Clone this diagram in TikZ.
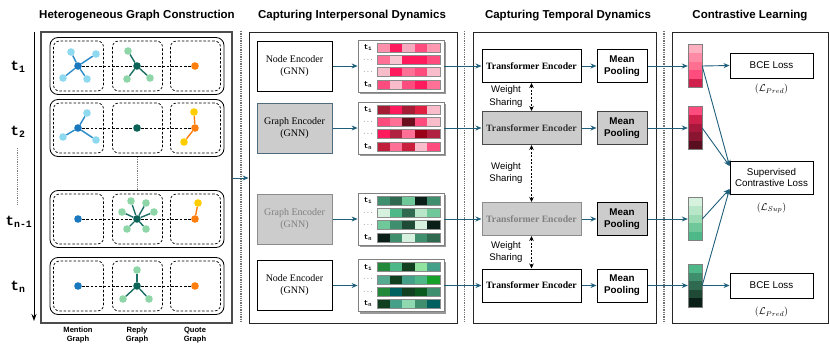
\documentclass[tikz,border=0pt]{standalone}
\usepackage{fontspec}
\setmainfont{Liberation Serif}
\setsansfont{Liberation Sans}
\setmonofont{Liberation Mono}
\usetikzlibrary{arrows.meta,calc}
\pgfdeclarelayer{bg}
\pgfsetlayers{bg,main}
\definecolor{arr}{RGB}{31,95,122}
\definecolor{cblue}{HTML}{1A78BE}
\definecolor{lblue}{HTML}{8ED9F0}
\definecolor{eblue}{HTML}{2A8BC8}
\definecolor{cteal}{HTML}{0C6358}
\definecolor{lgreen}{HTML}{8ED6A8}
\definecolor{eteal}{HTML}{1A6E64}
\definecolor{corange}{HTML}{FF7F0E}
\definecolor{cyellow}{HTML}{FFCC00}
\definecolor{boxgray}{HTML}{CCCCCC}
\definecolor{slate}{HTML}{4F6B7D}
\tikzset{
  title/.style={font=\sffamily\bfseries\fontsize{11.5}{13}\selectfont},
  panel/.style={draw=black!85, line width=0.9pt, minimum height=291pt},
  sepline/.style={black!55, densely dotted, line width=1.3pt},
  rowbox/.style={draw, rounded corners=8pt, line width=0.8pt, minimum width=174pt, minimum height=57pt},
  subbox/.style={draw, dash pattern=on 2.5pt off 1.8pt, rounded corners=6pt, line width=0.7pt, minimum width=50pt, minimum height=50pt},
  hline/.style={dash pattern=on 2.5pt off 1.8pt, line width=0.7pt},
  gnode/.style={circle, minimum size=7.6pt},
  conn/.style={arr, line width=0.9pt, -{Stealth[length=6pt,width=5pt]}},
  enc/.style={draw, line width=1pt, minimum width=75pt, minimum height=50pt, align=center, font=\fontsize{10}{12}\selectfont},
  matbox/.style={draw=black!50, fill=white, line width=0.8pt, minimum width=86pt, minimum height=52pt},
  tenc/.style={draw, line width=1pt, minimum width=99pt, minimum height=33pt, font=\bfseries\fontsize{9.7}{11}\selectfont},
  pool/.style={draw, line width=1pt, minimum width=50pt, minimum height=33pt, align=center, font=\sffamily\bfseries\fontsize{9.8}{12}\selectfont},
  loss/.style={draw, line width=0.9pt, minimum width=83pt, align=center, font=\sffamily\fontsize{9.8}{11}\selectfont},
  lossl/.style={font=\fontsize{10}{12}\selectfont},
  ws/.style={align=center, font=\sffamily\fontsize{9.6}{12.5}\selectfont},
  wsarrow/.style={dash pattern=on 2pt off 1.5pt, line width=0.9pt, {Stealth[length=5pt,width=4.5pt]}-{Stealth[length=5pt,width=4.5pt]}},
  tlab/.style={font=\ttfamily\bfseries\fontsize{14}{14}\selectfont},
  mlab/.style={font=\ttfamily\bfseries\fontsize{7.5}{8}\selectfont},
  glab/.style={align=center, font=\sffamily\bfseries\fontsize{7.6}{9}\selectfont},
}
\newcommand{\embmat}[3]{%
  \fill[black!40] (360,#2-24) rectangle (446,#2+28);
  \node[matbox] (#1) at (401,#2) {};
  \foreach \row [count=\r] in {#3} {
    \foreach \c [count=\k] in \row {
      \definecolor{cellc}{HTML}{\c}
      \fill[cellc] ({377+(\k-1)*12.6},{#2+(\r-2.5)*12.3-4.5}) rectangle ++(12.6,9);
    }
    \draw[black!45, line width=0.6pt] (377,{#2+(\r-2.5)*12.3-4.5}) rectangle ++(63,9);
  }
  \node[mlab] (#1l1) at (368,#2-18.45) {t\textsubscript{1}};
  \node[mlab] (#1l2) at (368,#2-6.15) {$\cdots$};
  \node[mlab] (#1l3) at (368,#2+6.15) {$\cdots$};
  \node[mlab] (#1l4) at (368,#2+18.45) {t\textsubscript{n}};
}
\newcommand{\embvec}[3]{%
  \node[minimum width=14pt, minimum height=43pt] (#1) at (695,#2) {};
  \foreach \c [count=\k] in {#3} {
    \definecolor{cellc}{HTML}{\c}
    \fill[cellc] (688,{#2-21.5+(\k-1)*8.6}) rectangle ++(14,8.6);
  }
  \draw[black!50, line width=0.6pt] (688,#2-21.5) rectangle (702,#2+21.5);
}
\begin{document}
\begin{tikzpicture}[x=1pt,y=-1pt, every node/.style={inner sep=0pt}]
\useasboundingbox (0,0) rectangle (830,348);

% titles
\node[title] (ti1) at (137,16) {Heterogeneous Graph Construction};
\node[title] (ti2) at (352,16) {Capturing Interpersonal Dynamics};
\node[title] (ti3) at (568,16) {Capturing Temporal Dynamics};
\node[title] (ti4) at (750,16) {Contrastive Learning};

% panels
\node[panel, draw=black!70, line width=1.2pt, minimum width=191pt] (lp) at (136.5,177.5) {};
\node[panel, minimum width=208pt] (mp) at (353,177.5) {};
\node[panel, minimum width=183pt] (tp) at (564.5,177.5) {};
\node[panel, minimum width=156pt] (cp) at (750,177.5) {};
\draw[sepline] (241,31) -- (241,323);
\draw[sepline] (464.5,31) -- (464.5,323);
\draw[sepline] (664,31) -- (664,323);

% time axis
\coordinate (axtop) at (34,32);
\coordinate (axbot) at (34,321);
\draw[line width=0.9pt, -{Stealth[length=7pt,width=5pt]}] (axtop) -- (axbot);
\draw[black!50, densely dotted, line width=0.8pt] (17,148) -- (17,205);
\node[tlab] (tl1) at (18,67) {t\textsubscript{1}};
\node[tlab] (tl2) at (18,132) {t\textsubscript{2}};
\node[tlab] (tl3) at (19,222) {t\textsubscript{n-1}};
\node[tlab] (tl4) at (18,287) {t\textsubscript{n}};

% rows of graphs
\foreach \yc [count=\i] in {66,128,219,286} {
  \node[rowbox] (row\i) at (137,\yc) {};
  \node[subbox] (sm\i) at (78.5,\yc) {};
  \node[subbox] (sr\i) at (137.5,\yc) {};
  \node[subbox] (sq\i) at (195.5,\yc) {};
  \node[gnode, fill=cblue] (m\i) at (78,\yc) {};
  \node[gnode, fill=cteal] (r\i) at (137,\yc) {};
  \node[gnode, fill=corange] (q\i) at (195,\yc) {};
  \begin{pgfonlayer}{bg}
    \draw[hline] (m\i) -- (r\i) -- (q\i);
  \end{pgfonlayer}
}
\draw[black!50, densely dotted, line width=0.8pt] (row2.south) -- (row3.north);

% neighbours
\foreach \dx/\dy [count=\k] in {-7/-14, 18/-12, -15/12, 9/13} {
  \node[gnode, fill=lblue] (m1n\k) at ($(m1)+(\dx,\dy)$) {};
  \begin{pgfonlayer}{bg}\draw[eblue, line width=1.4pt] (m1) -- (m1n\k);\end{pgfonlayer}
}
\foreach \dx/\dy [count=\k] in {-9/-15, -10/13, 13/12} {
  \node[gnode, fill=lgreen] (r1n\k) at ($(r1)+(\dx,\dy)$) {};
  \begin{pgfonlayer}{bg}\draw[eteal, line width=1.4pt] (r1) -- (r1n\k);\end{pgfonlayer}
}
\foreach \dx/\dy [count=\k] in {9/-15, -15/9, 18/12} {
  \node[gnode, fill=lblue] (m2n\k) at ($(m2)+(\dx,\dy)$) {};
  \begin{pgfonlayer}{bg}\draw[eblue, line width=1.4pt] (m2) -- (m2n\k);\end{pgfonlayer}
}
\foreach \dx/\dy [count=\k] in {-1/-16, -11/14} {
  \node[gnode, fill=cyellow] (q2n\k) at ($(q2)+(\dx,\dy)$) {};
  \begin{pgfonlayer}{bg}\draw[corange, line width=1.4pt] (q2) -- (q2n\k);\end{pgfonlayer}
}
\foreach \dx/\dy [count=\k] in {-6/-18, 9/-16, -15/-7, 17/-7, -10/10, 9/10} {
  \node[gnode, fill=lgreen] (r3n\k) at ($(r3)+(\dx,\dy)$) {};
  \begin{pgfonlayer}{bg}\draw[eteal, line width=1.4pt] (r3) -- (r3n\k);\end{pgfonlayer}
}
\foreach \dx/\dy [count=\k] in {3/-16} {
  \node[gnode, fill=cyellow] (q3n\k) at ($(q3)+(\dx,\dy)$) {};
  \begin{pgfonlayer}{bg}\draw[corange, line width=1.4pt] (q3) -- (q3n\k);\end{pgfonlayer}
}
\foreach \dx/\dy [count=\k] in {0/-16, -14/13, 12/13} {
  \node[gnode, fill=lgreen] (r4n\k) at ($(r4)+(\dx,\dy)$) {};
  \begin{pgfonlayer}{bg}\draw[eteal, line width=1.4pt] (r4) -- (r4n\k);\end{pgfonlayer}
}

\node[glab] (gl1) at (78,335.5) {Mention\\Graph};
\node[glab] (gl2) at (137,335.5) {Reply\\Graph};
\node[glab] (gl3) at (195,335.5) {Quote\\Graph};

% arrow left -> middle
\coordinate (ya) at (0,178);
\draw[conn] (lp.east |- ya) -- (mp.west |- ya);

% encoders
\node[enc] (e1) at (294.5,66) {Node Encoder\\(GNN)};
\node[enc, fill=boxgray, draw=slate] (e2) at (294.5,128) {Graph Encoder\\(GNN)};
\node[enc, fill=boxgray, draw=black!45, text=black!50] (e3) at (294.5,219) {Graph Encoder\\(GNN)};
\node[enc] (e4) at (294.5,285.5) {Node Encoder\\(GNN)};

\embmat{mat1}{66}{{FF8FAB,FF1A5E,F7A9BF,FF4C7F,FF99B1},{FF7096,F7C6D2,FF1A5E,FF1A5E,FF4C7F},{F9BCCB,FF1A5E,FF7096,FF4C7F,F9BCCB},{FF4C7F,F9BCCB,FF4C7F,FF1A5E,FF7096}}
\embmat{mat2}{128}{{A61C34,FF1A5E,A61C34,E02040,F9BCCB},{FF4C7F,FF7096,6B0F1F,FF4C7F,F9BCCB},{FF1A5E,B02040,FF7096,990018,B02040},{C0203C,FF7096,C8203C,F9BCCB,FF4C7F}}
\embmat{mat3}{219}{{3F8F6F,2F6A50,6FC89A,0A1F17,3F8F6F},{D6F2DE,4FB888,2F6A50,B8E6C8,6FC89A},{6FC89A,3F8F6F,1F4A36,D6F2DE,0A1F17},{0A1F17,3F8F6F,D6F2DE,3F8F6F,2F6A50}}
\embmat{mat4}{285.5}{{22883A,4FB888,10401F,90E4A0,45A08A},{55AA90,10401F,45A08A,4FB888,15A02A},{22883A,006060,10401F,0A5A20,3F8F6F},{10401F,45A08A,90D8B0,3F8F6F,006060}}

% temporal
\node[tenc] (t1) at (531.5,66) {Transformer Encoder};
\node[tenc, fill=boxgray, draw=black!70, text=black!80] (t2) at (531.5,128) {Transformer Encoder};
\node[tenc, fill=boxgray, draw=black!45, text=black!50] (t3) at (531.5,219) {Transformer Encoder};
\node[tenc] (t4) at (531.5,285.5) {Transformer Encoder};
\node[pool] (p1) at (622,66) {Mean\\Pooling};
\node[pool, fill=boxgray, draw=black!75] (p2) at (622,128) {Mean\\Pooling};
\node[pool, fill=boxgray] (p3) at (622,219) {Mean\\Pooling};
\node[pool] (p4) at (622,285.5) {Mean\\Pooling};
\draw[wsarrow] (t1.south) -- (t2.north);
\draw[wsarrow] (t2.south) -- (t3.north);
\draw[wsarrow] (t3.south) -- (t4.north);
\node[ws] (w1) at (506,96.5) {Weight\\Sharing};
\node[ws] (w2) at (506,173) {Weight\\Sharing};
\node[ws] (w3) at (506,252) {Weight\\Sharing};

% contrastive
\embvec{v1}{66}{FFB0C0,FF8AA5,FF6F90,FF4C7F,D0204C}
\embvec{v2}{128}{FF4C7F,D0204C,A8183C,8A1530,5A0F20}
\embvec{v3}{219}{D6F2DE,B8E6C8,9ADBB4,6FC89A,4FB888}
\embvec{v4}{285.5}{4FB888,3F8F6F,2F6A50,1F4A36,0A1F17}
\node[loss, minimum height=25pt] (b1) at (771.5,65.5) {BCE Loss};
\node[loss, minimum height=33pt] (sup) at (771.5,177.5) {Supervised\\Contrastive Loss};
\node[loss, minimum height=25pt] (b2) at (771.5,285.5) {BCE Loss};
\node[lossl] (lb1) at (771.5,89) {$(\mathcal{L}_{Pred})$};
\node[lossl] (ls) at (771.5,208) {$(\mathcal{L}_{Sup})$};
\node[lossl] (lb2) at (771.5,312) {$(\mathcal{L}_{Pred})$};
\coordinate (supA) at ($(sup.west)+(0,-11.5)$);
\coordinate (supB) at ($(sup.west)+(0,11.5)$);

% connectors
\foreach \i in {1,2,3,4} {
  \draw[conn] (e\i) -- (mat\i);
  \draw[conn] (mat\i) -- (t\i);
  \draw[conn] (t\i) -- (p\i);
  \draw[conn] (p\i) -- (v\i);
}
\draw[conn] (v1.east) -- (b1.west);
\draw[conn] (v4.east) -- (b2.west);
\draw[conn] (v1.east) -- (supA);
\draw[conn] (v2.east) -- (supA);
\draw[conn] (v3.east) -- (supB);
\draw[conn] (v4.east) -- (supB);
\end{tikzpicture}
\end{document}
